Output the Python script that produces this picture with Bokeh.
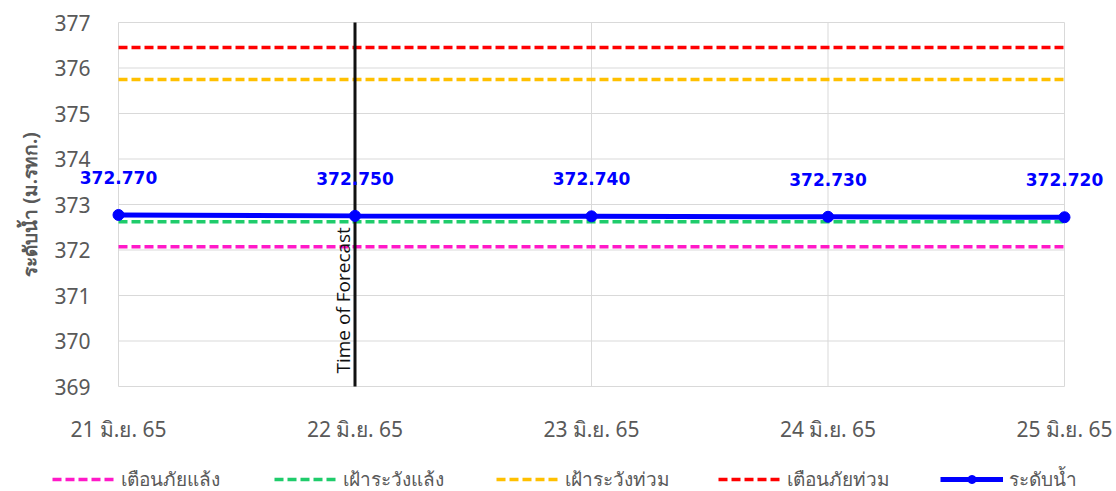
import math
from bokeh.plotting import figure
from bokeh.models import (ColumnDataSource, LabelSet, Label, Legend, LegendItem,
                          FixedTicker)
from bokeh.core.properties import value
from bokeh.embed import file_html
from bokeh.resources import INLINE

# ---- data ----
dates = ["21 มิ.ย. 65", "22 มิ.ย. 65", "23 มิ.ย. 65", "24 มิ.ย. 65", "25 มิ.ย. 65"]
water_level = [372.77, 372.75, 372.74, 372.73, 372.72]
drought_warning = [372.07, 372.07, 372.07, 372.07, 372.07]
drought_watch = [372.62, 372.62, 372.62, 372.62, 372.62]
flood_watch = [375.75, 375.75, 375.75, 375.75, 375.75]
flood_warning = [376.45, 376.45, 376.45, 376.45, 376.45]
forecast_index = 1
y_ticks = [369, 370, 371, 372, 373, 374, 375, 376, 377]
y_title = "ระดับน้ำ (ม.รทก.)"
forecast_text = "Time of Forecast"

series_names = ["เตือนภัยแล้ง", "เฝ้าระวังแล้ง", "เฝ้าระวังท่วม", "เตือนภัยท่วม", "ระดับน้ำ"]
colors = ["#FF19C8", "#1FCC6B", "#FFC000", "#FF0000", "#0000FF"]

xs = list(range(len(dates)))
x_lo, x_hi = xs[0], xs[-1]
y_lo, y_hi = y_ticks[0], y_ticks[-1]

# the frame covers the whole canvas; the data area sits inside it
W, H = 1116, 491
L, R, T, B = 118, 1064, 22, 386
px_x = (R - L) / (x_hi - x_lo)
px_y = (B - T) / (y_hi - y_lo)
p = figure(width=W, height=H, output_backend="svg", toolbar_location=None,
           x_range=(x_lo - L / px_x, x_hi + (W - R) / px_x),
           y_range=(y_lo - (H - B) / px_y, y_hi + T / px_y),
           min_border_left=0, min_border_right=0, min_border_top=0,
           min_border_bottom=0)
p.outline_line_color = None
p.background_fill_color = "white"
p.xgrid.visible = False
p.ygrid.visible = False

grid_col = "#D9D9D9"
p.segment(x0=[x_lo] * len(y_ticks), y0=y_ticks, x1=[x_hi] * len(y_ticks), y1=y_ticks,
          line_color=grid_col, line_width=1)
p.segment(x0=xs, y0=[y_lo] * len(xs), x1=xs, y1=[y_hi] * len(xs),
          line_color=grid_col, line_width=1)

p.xaxis.ticker = FixedTicker(ticks=xs)
p.xaxis.major_label_overrides = {i: d for i, d in enumerate(dates)}
p.xaxis.fixed_location = y_lo
p.yaxis.ticker = FixedTicker(ticks=y_ticks)
p.yaxis.fixed_location = x_lo

for ax in (p.xaxis[0], p.yaxis[0]):
    ax.axis_line_color = None
    ax.major_tick_line_color = None
    ax.minor_tick_line_color = None
    ax.major_tick_out = 0
    ax.major_tick_in = 0
    ax.major_label_text_color = "#595959"
    ax.major_label_text_font = "Noto Sans"
    ax.major_label_text_font_size = "21px"

p.xaxis.major_label_standoff = 28
p.yaxis.major_label_standoff = 28

# y-axis title, centred on the data area
p.add_layout(Label(x=x_lo, y=(y_lo + y_hi) / 2, text=y_title, angle=math.pi / 2,
                   x_offset=-89, text_align="center", text_baseline="middle",
                   text_font="Noto Sans", text_font_size="19px", text_font_style="bold",
                   text_color="#595959"))

dash = "9 4"
r1 = p.line(xs, drought_warning, line_color=colors[0], line_width=3.5, line_dash=dash)
r2 = p.line(xs, drought_watch, line_color=colors[1], line_width=3.5, line_dash=dash)
r3 = p.line(xs, flood_watch, line_color=colors[2], line_width=3.5, line_dash=dash)
r4 = p.line(xs, flood_warning, line_color=colors[3], line_width=3.5, line_dash=dash)

# forecast line
p.segment(x0=[forecast_index], y0=[y_lo], x1=[forecast_index], y1=[y_hi],
          line_color="#111111", line_width=3)
p.add_layout(Label(x=forecast_index, y=y_lo, text=forecast_text, angle=math.pi / 2,
                   x_offset=1, y_offset=13, text_baseline="bottom", text_align="left",
                   text_font="Open Sans", text_font_size="19px", text_color="#111111"))

src = ColumnDataSource(dict(x=xs, y=water_level,
                            lab=["%.3f" % v for v in water_level]))
r5 = p.line("x", "y", source=src, line_color=colors[4], line_width=5)
r5b = p.scatter("x", "y", source=src, size=11, fill_color=colors[4], line_color=colors[4])

p.add_layout(LabelSet(x="x", y="y", text="lab", source=src, y_offset=31,
                      text_align="center", text_baseline="alphabetic",
                      text_font=value("DejaVu Sans"), text_font_style="bold",
                      text_font_size="17px", text_color="#0000FF"))

legend = Legend(items=[
    LegendItem(label=series_names[0], renderers=[r1]),
    LegendItem(label=series_names[1], renderers=[r2]),
    LegendItem(label=series_names[2], renderers=[r3]),
    LegendItem(label=series_names[3], renderers=[r4]),
    LegendItem(label=series_names[4], renderers=[r5, r5b]),
], orientation="horizontal", location=(52, -3))
legend.glyph_width = 63
legend.glyph_height = 20
legend.label_standoff = 6
legend.label_width = 110
legend.spacing = 43
legend.padding = 0
legend.margin = 0
legend.border_line_color = None
legend.background_fill_alpha = 0
legend.label_text_font = "Noto Sans"
legend.label_text_font_size = "19px"
legend.label_text_color = "#595959"
p.add_layout(legend, "center")

open("out.html", "w").write(file_html(p, INLINE))
